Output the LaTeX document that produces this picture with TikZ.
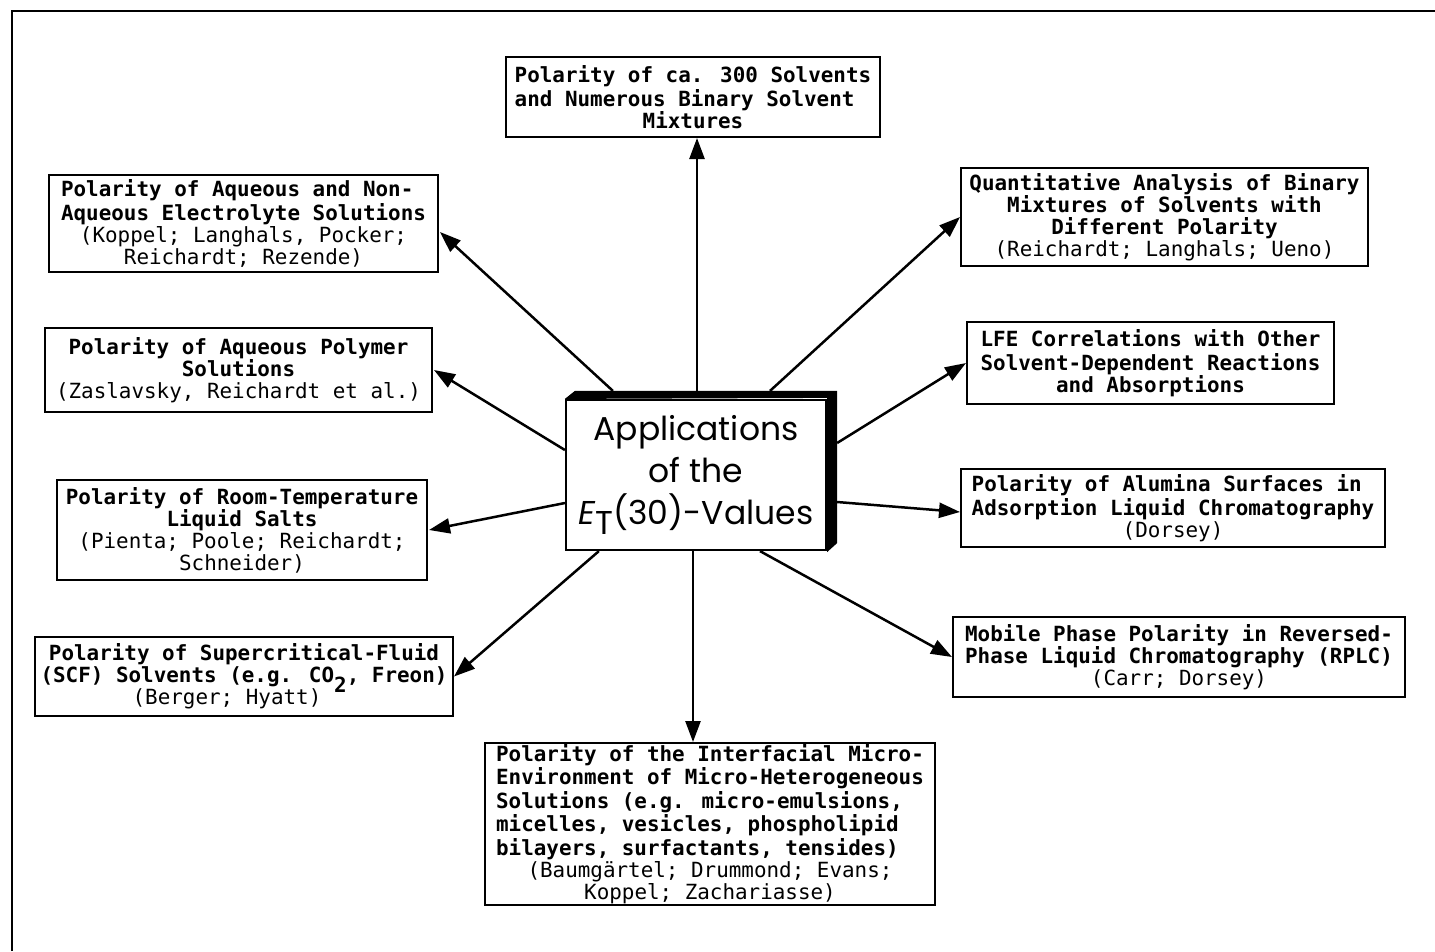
\documentclass[tikz,border=0pt]{standalone}
\usepackage{fontspec}
\usetikzlibrary{arrows.meta,calc}
\newfontfamily\mono{DejaVu Sans Mono}
\newfontfamily\csans{Poppins}
\newcommand{\lft}[1]{\begin{tabular}[b]{@{}l@{}}#1\end{tabular}}
\newcommand{\au}{\mdseries}
\newcommand{\boxfont}{\mono\bfseries\fontsize{20.9}{22}\selectfont\lineskiplimit-10pt\relax}
\tikzset{
  box/.style={draw, line width=2pt, inner sep=0pt, align=center, font=\boxfont},
  arr/.style={line width=2.5pt, -{Triangle[length=21pt,width=15pt]}},
  frame/.style={line width=1.6pt}
}
\begin{document}
\begin{tikzpicture}[x=1pt,y=-1pt]
\useasboundingbox (0,0) rectangle (1435,951);
\draw[frame] (12,951) -- (12,11) -- (1435,11);

% centre
\node[draw, line width=2.2pt, minimum width=260pt, minimum height=150pt, inner sep=0pt,
  align=center, font=\csans\fontsize{33}{42}\selectfont] (c) at (696,475)
  {Applications\\of the\hspace*{14pt}\\{\itshape E}\raisebox{-0.32em}{T}(30)-Values};
\fill (c.north west) -- ++(10,-8) -- ($(c.north east)+(10,-8)$) -- ($(c.south east)+(10,-8)$)
  -- ($(c.south east)+(0,1)$) -- ($(c.north east)+(0,-1)$) -- cycle;

% boxes
\node[box, minimum width=374pt, minimum height=80pt] (b1) at (693,97)
  {\lft{Polarity of ca. 300 Solvents\\and Numerous Binary Solvent}\\Mixtures};
\node[box, minimum width=389pt, minimum height=97pt] (b2) at (243.5,223.5)
  {\lft{Polarity of Aqueous and Non-\\Aqueous Electrolyte Solutions}\\
   \au(Koppel; Langhals, Pocker;\\\au Reichardt; Rezende)};
\node[box, minimum width=387pt, minimum height=84pt] (b3) at (238.5,370)
  {Polarity of Aqueous Polymer\\Solutions\\\au(Zaslavsky, Reichardt et al.)};
\node[box, minimum width=370pt, minimum height=100pt] (b4) at (242,530)
  {Polarity of Room-Temperature\\Liquid Salts\\\au(Pienta; Poole; Reichardt;\\\au Schneider)};
\node[box, minimum width=418pt, minimum height=79pt] (b5) at (244,676.5)
  {Polarity of Supercritical-Fluid\\(SCF) Solvents (e.g. CO\smash{\raisebox{-0.45em}{2}}, Freon)\\\au(Berger; Hyatt)\hspace*{34pt}};
\node[box, minimum width=450pt, minimum height=162pt] (b6) at (710,824)
  {\lft{Polarity of the Interfacial Micro-\\Environment of Micro-Heterogeneous\\Solutions (e.g. micro-emulsions,\\micelles, vesicles, phospholipid\\bilayers, surfactants, tensides)}\\
   \au(Baumgärtel; Drummond; Evans;\\\au Koppel; Zachariasse)};
\node[box, minimum width=407pt, minimum height=98pt] (b7) at (1164.5,217)
  {Quantitative Analysis of Binary\\Mixtures of Solvents with\\Different Polarity\\\au(Reichardt; Langhals; Ueno)};
\node[box, minimum width=367pt, minimum height=82pt] (b8) at (1150.5,363)
  {\lft{LFE Correlations with Other\\Solvent-Dependent Reactions}\\and Absorptions};
\node[box, minimum width=424pt, minimum height=78pt] (b9) at (1173,508)
  {\lft{Polarity of Alumina Surfaces in\\Adsorption Liquid Chromatography}\\\au(Dorsey)};
\node[box, minimum width=452pt, minimum height=80pt] (b10) at (1179,657)
  {Mobile Phase Polarity in Reversed-\\Phase Liquid Chromatography (RPLC)\\\au(Carr; Dorsey)};

% connectors
\draw[arr] ($(c.north)+(1,-8)$) -- ($(b1.south)+(4,0)$);
\draw[arr] ($(c.north west)+(48,-8)$) -- ($(b2.east)+(1,8.5)$);
\draw[arr] ($(c.west)+(0,-25)$) -- ($(b3.east)+(1,0)$);
\draw[arr] ($(c.west)+(0,28)$) -- ($(b4.east)+(1,0)$);
\draw[arr] ($(c.south west)+(34,0)$) -- ($(b5.east)+(0,0)$);
\draw[arr] ($(c.south)+(-3,0)$) -- ($(b6.north)+(-17,0)$);
\draw[arr] ($(c.north)+(74,-8)$) -- (b7.west);
\draw[arr] ($(c.east)+(10,-32)$) -- (b8.west);
\draw[arr] ($(c.east)+(10,27)$) -- ($(b9.west)+(0,4)$);
\draw[arr] ($(c.south)+(64,0)$) -- (b10.west);
\end{tikzpicture}
\end{document}
